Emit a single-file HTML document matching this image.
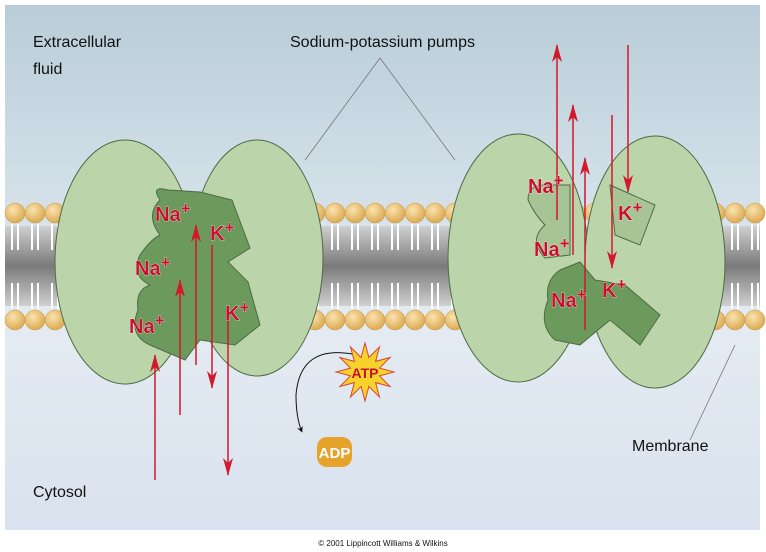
<!DOCTYPE html>
<html><head><meta charset="utf-8"><style>
html,body{margin:0;padding:0;background:#fff;}
svg{display:block;font-family:"Liberation Sans",Arial,sans-serif;}
</style></head><body>
<svg id="s" width="766" height="552" viewBox="0 0 766 552">
<defs>
<linearGradient id="bg" x1="0" y1="0" x2="0" y2="1">
<stop offset="0" stop-color="#b9cdd8"/><stop offset="0.4" stop-color="#d6e2ea"/><stop offset="0.6" stop-color="#e4ebf2"/><stop offset="1" stop-color="#d9e2ee"/></linearGradient>
<linearGradient id="band" x1="0" y1="0" x2="0" y2="1">
<stop offset="0" stop-color="#d0d0d0"/><stop offset="0.5" stop-color="#7a7a7a"/><stop offset="1" stop-color="#d0d0d0"/></linearGradient>
<radialGradient id="head" cx="0.4" cy="0.35" r="0.7"><stop offset="0" stop-color="#fbe3b0"/><stop offset="1" stop-color="#d9a54a"/></radialGradient>
<marker id="ar" viewBox="0 0 18 10" refX="17" refY="5" markerWidth="18" markerHeight="10" markerUnits="userSpaceOnUse" orient="auto"><path d="M0,0 L18,5 L0,10 L5,5 z" fill="#d0192d"/></marker>
<marker id="ab" viewBox="0 0 10 10" refX="9" refY="5" markerWidth="6" markerHeight="6" orient="auto"><path d="M0,0 L10,5 L0,10 L3,5 z" fill="#111"/></marker>
</defs>
<rect x="5" y="5" width="755" height="525" fill="url(#bg)"/>
<g id="mem">
<rect x="5" y="226" width="755" height="80" fill="url(#band)"/>
</g>
<g stroke="#4d6b45" stroke-width="1">
<ellipse cx="125" cy="262" rx="70" ry="122" fill="#bcd4aa"/>
<ellipse cx="257" cy="258" rx="66" ry="118" fill="#bcd4aa"/>
<path d="M160,200 Q150,185 168,190 L200,192 L232,200 L250,248 L228,262 L248,282 L260,325 L235,345 L200,340 L185,360 L150,345 Q128,335 138,310 Q135,290 150,285 Q130,275 140,255 Q150,240 160,235 Q145,215 160,200 z" fill="#6b9a5c"/>
</g>
<g stroke="#4d6b45" stroke-width="1">
<ellipse cx="518" cy="258" rx="70" ry="124" fill="#bcd4aa"/>
<ellipse cx="655" cy="262" rx="70" ry="126" fill="#bcd4aa"/>
<path d="M560,270 Q545,280 548,300 Q538,325 555,340 L580,345 L610,320 L640,345 L660,315 L625,285 L595,280 L580,262 z" fill="#6b9a5c"/>
<path d="M545,185 Q528,185 528,200 Q535,215 545,225 Q528,240 545,258 L570,255 L570,185 z" fill="#a7c594"/>
<path d="M610,185 L655,205 L640,245 L615,235 z" fill="#a7c594"/>
</g>
<g id="arrows" fill="none" stroke="#d0192d" stroke-width="1.5">
<line x1="155" y1="480" x2="155" y2="355" marker-end="url(#ar)"/>
<line x1="180" y1="415" x2="180" y2="280" marker-end="url(#ar)"/>
<line x1="196" y1="365" x2="196" y2="225" marker-end="url(#ar)"/>
<line x1="212" y1="245" x2="212" y2="388" marker-end="url(#ar)"/>
<line x1="228" y1="320" x2="228" y2="475" marker-end="url(#ar)"/>
<line x1="557" y1="220" x2="557" y2="45" marker-end="url(#ar)"/>
<line x1="573" y1="255" x2="573" y2="105" marker-end="url(#ar)"/>
<line x1="585" y1="330" x2="585" y2="158" marker-end="url(#ar)"/>
<line x1="628" y1="45" x2="628" y2="192" marker-end="url(#ar)"/>
<line x1="612" y1="115" x2="612" y2="268" marker-end="url(#ar)"/>
</g>
<g fill="#c8102e" font-weight="bold" font-size="20" stroke="#fff" stroke-width="0.6" paint-order="stroke">
<text x="155" y="221">Na<tspan dy="-7" font-size="17">+</tspan></text>
<text x="135" y="275">Na<tspan dy="-7" font-size="17">+</tspan></text>
<text x="129" y="333">Na<tspan dy="-7" font-size="17">+</tspan></text>
<text x="210" y="240">K<tspan dy="-7" font-size="17">+</tspan></text>
<text x="225" y="320">K<tspan dy="-7" font-size="17">+</tspan></text>
<text x="528" y="193">Na<tspan dy="-7" font-size="17">+</tspan></text>
<text x="534" y="256">Na<tspan dy="-7" font-size="17">+</tspan></text>
<text x="551" y="307">Na<tspan dy="-7" font-size="17">+</tspan></text>
<text x="618" y="220">K<tspan dy="-7" font-size="17">+</tspan></text>
<text x="602" y="297">K<tspan dy="-7" font-size="17">+</tspan></text>
</g>
<g>
<polygon id="star" fill="#f7d22a" stroke="#d9463a" stroke-width="1"/>
<text x="365" y="378" text-anchor="middle" font-size="14" font-weight="bold" fill="#c8102e">ATP</text>
</g>
<path d="M352,354 Q300,345 296,395 Q296,418 302,432" fill="none" stroke="#111" stroke-width="1" marker-end="url(#ab)"/>
<g>
<rect x="317" y="437" width="35" height="30" rx="10" fill="#e6a32b"/>
<text x="334.5" y="458" text-anchor="middle" font-size="15" font-weight="bold" fill="#fff">ADP</text>
</g>
<g stroke="#777" stroke-width="0.8">
<line x1="380" y1="58" x2="305" y2="160"/><line x1="380" y1="58" x2="455" y2="160"/>
<line x1="735" y1="345" x2="690" y2="440"/>
</g>
<g font-size="16" fill="#111">
<text x="33" y="47">Extracellular</text><text x="33" y="74">fluid</text>
<text x="290" y="47">Sodium-potassium pumps</text>
<text x="632" y="451">Membrane</text>
<text x="33" y="497">Cytosol</text>
</g>
<text x="383" y="546" text-anchor="middle" font-size="8" fill="#111">© 2001 Lippincott Williams &amp; Wilkins</text>
</svg>
<script>
var NS="http://www.w3.org/2000/svg";
var mem=document.getElementById('mem');
for(var x=15;x<760;x+=20){
  var g=document.createElementNS(NS,'g');
  
  
  [[224,250],[283,309]].forEach(function(t){
    [-3,3].forEach(function(d){
      var l=document.createElementNS(NS,'line');
      l.setAttribute('x1',x+d);l.setAttribute('x2',x+d);
      l.setAttribute('y1',t[0]);l.setAttribute('y2',t[1]);
      l.setAttribute('stroke','#fff');l.setAttribute('stroke-width','2');
      g.appendChild(l);
    });
  });
  [213,320].forEach(function(cy){
    var c=document.createElementNS(NS,'circle');
    c.setAttribute('cx',x);c.setAttribute('cy',cy);c.setAttribute('r',10);
    c.setAttribute('fill','url(#head)');c.setAttribute('stroke','#c89a4a');c.setAttribute('stroke-width','0.5');
    g.appendChild(c);
  });
  mem.appendChild(g);
}
var pts=[];for(var i=0;i<24;i++){var a=i*Math.PI/12-Math.PI/2;var r=i%2?15:29;pts.push((365+r*Math.cos(a)).toFixed(1)+','+(372+r*Math.sin(a)).toFixed(1));}
document.getElementById('star').setAttribute('points',pts.join(' '));
</script>
</body></html>
